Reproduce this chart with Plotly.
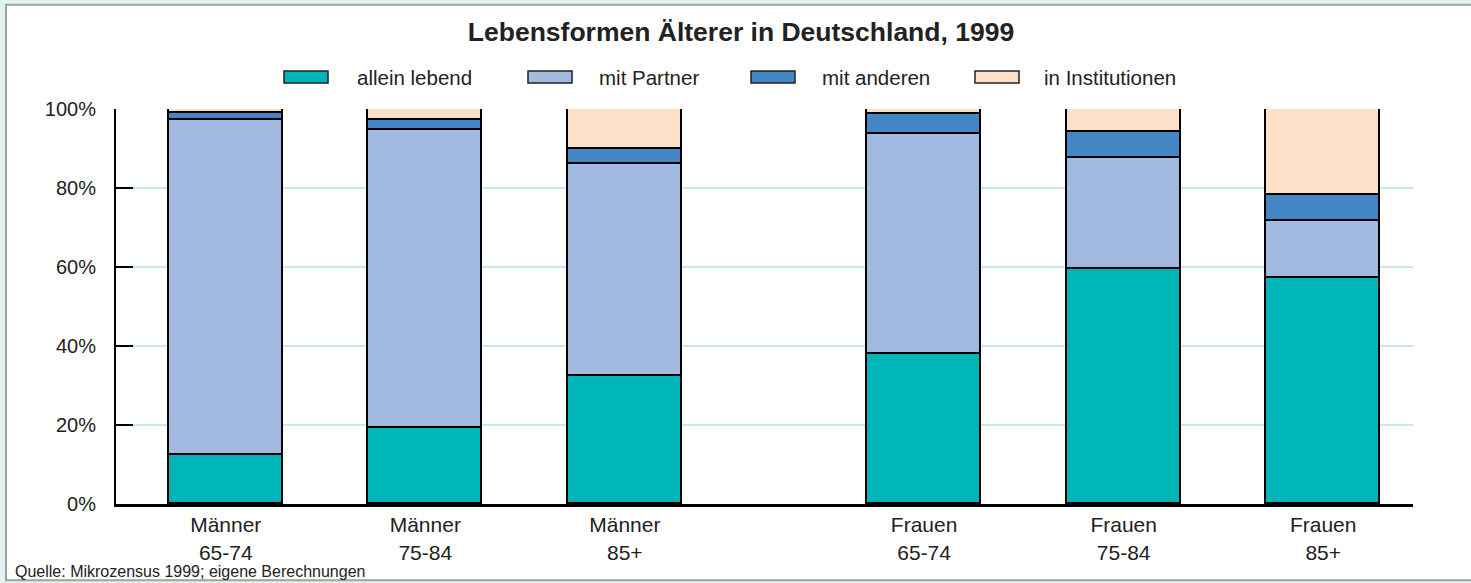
import plotly.graph_objects as go

# ---- data ----
categories = ["Männer<br>65-74", "Männer<br>75-84", "Männer<br>85+",
              "Frauen<br>65-74", "Frauen<br>75-84", "Frauen<br>85+"]
positions = [0, 1, 2, 3.5, 4.5, 5.5]
allein_lebend = [12.5, 19.2, 32.4, 37.9, 59.5, 57.3]
mit_partner = [84.6, 75.4, 53.6, 55.7, 28.1, 14.3]
mit_anderen = [1.9, 2.6, 4.0, 5.2, 6.7, 6.7]
in_institutionen = [1.0, 2.8, 10.0, 1.2, 5.7, 21.7]
y_ticks = [0, 20, 40, 60, 80, 100]
y_tick_labels = ["0%", "20%", "40%", "60%", "80%", "100%"]

series = [
    ("allein lebend", allein_lebend, "#00b5b8"),
    ("mit Partner", mit_partner, "#a2b9e0"),
    ("mit anderen", mit_anderen, "#4485c6"),
    ("in Institutionen", in_institutionen, "#fde0c7"),
]

W, H = 1471, 583
L, R, T, B = 116, 58, 108.5, 78.5
pw, ph = W - L - R, H - T - B


def px(xp):
    return (xp - L) / pw


def py(yp):
    return (H - B - yp) / ph


fig = go.Figure()
for name, vals, col in series:
    fig.add_trace(go.Bar(
        x=positions, y=vals, name=name, width=0.57,
        marker=dict(color=col, line=dict(color="#000000", width=1.8)),
        showlegend=False,
    ))

shapes = []
annotations = []
# frame
shapes.append(dict(type="rect", xref="paper", yref="paper",
                   x0=px(6), x1=px(1480), y0=py(581), y1=py(4),
                   fillcolor="white", line=dict(color="#9aa69a", width=2),
                   layer="below"))
# custom legend
leg_swatch_x = [284, 528, 751, 975]
leg_text_x = [355, 597, 820, 1042]
for (name, vals, col), sx, tx in zip(series, leg_swatch_x, leg_text_x):
    shapes.append(dict(type="rect", xref="paper", yref="paper",
                       x0=px(sx), x1=px(sx + 44), y0=py(82.5), y1=py(70.5),
                       fillcolor=col, line=dict(color="#222222", width=1.5)))
    annotations.append(dict(text=name, xref="paper", yref="paper",
                            x=px(tx), y=py(76.5), xanchor="left", yanchor="middle",
                            showarrow=False,
                            font=dict(family="Liberation Sans, Arial", size=20.5, color="#222222")))
# source
annotations.append(dict(text="Quelle: Mikrozensus 1999; eigene Berechnungen",
                        xref="paper", yref="paper", x=px(13), y=py(572.5),
                        xanchor="left", yanchor="middle", showarrow=False,
                        font=dict(family="Liberation Sans, Arial", size=16, color="#222222")))

fig.update_layout(
    width=W, height=H,
    margin=dict(l=L, r=R, t=T, b=B, autoexpand=False),
    barmode="stack",
    paper_bgcolor="#e2f1f1",
    plot_bgcolor="rgba(0,0,0,0)",
    font=dict(family="Liberation Sans, Arial", size=20, color="#222222"),
    title=dict(text="<b>Lebensformen Älterer in Deutschland, 1999</b>",
               x=px(741), xref="paper", xanchor="center",
               y=1 - 32 / H, yref="container", yanchor="middle",
               font=dict(family="Liberation Sans, Arial", size=26.5, color="#222222")),
    shapes=shapes,
    annotations=annotations,
    xaxis=dict(range=[-0.55, 5.95], tickvals=positions, ticktext=categories,
               showline=True, linecolor="#000000", linewidth=3,
               ticks="", showgrid=False, zeroline=False,
               tickfont=dict(size=21), fixedrange=True),
    yaxis=dict(range=[0, 100], tickvals=y_ticks, ticktext=y_tick_labels,
               showline=True, linecolor="#000000", linewidth=2,
               ticks="inside", ticklen=17, tickwidth=2, tickcolor="#000000",
               showgrid=True, gridcolor="#c8e8ea", gridwidth=2,
               zeroline=False, ticklabelstandoff=14,
               tickfont=dict(size=20)),
    bargap=0,
)

fig.write_html("out.html", config={"displayModeBar": False},
               post_script="document.body.style.margin='0';document.body.style.padding='0';")
